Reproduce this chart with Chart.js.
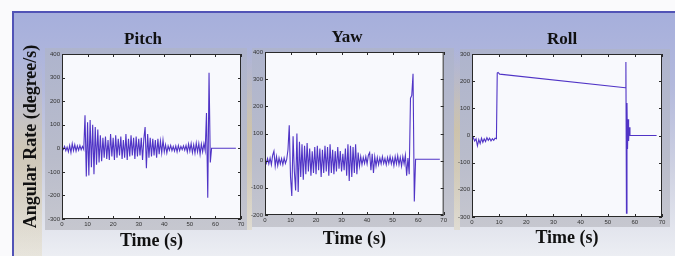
<!DOCTYPE html>
<html>
<head>
<meta charset="utf-8">
<script src="https://cdn.jsdelivr.net/npm/chart.js@4.4.1/dist/chart.umd.min.js"></script>
<style>
  html, body { margin: 0; padding: 0; }
  body { width: 675px; height: 256px; position: relative; overflow: hidden; background: #fafafc; }
  #frame {
    position: absolute; left: 12px; top: 11px; right: 0; bottom: 0;
    border-top: 2px solid #5153b6; border-left: 2px solid #5153b6;
    background: linear-gradient(to bottom, #a6afdc 0%, #b3b9dc 30%, #cfd2e2 65%, #eceef3 100%);
  }
  .tan { position: absolute; background: linear-gradient(to bottom, rgba(214,192,130,0) 0%, rgba(214,192,130,0.55) 45%, rgba(214,192,130,0.25) 100%); }
  .panel { position: absolute; background: linear-gradient(to bottom, #aeb4cd 0%, #b9bccb 60%, #c6c7cf 100%); }
  canvas { position: absolute; }
</style>
</head>
<body>
<div id="frame"></div>
<div class="tan" style="left:14px;top:60px;width:28px;height:196px;opacity:.8"></div>
<div class="tan" style="left:247px;top:48px;width:5px;height:182px"></div>
<div class="tan" style="left:454px;top:48px;width:6px;height:182px"></div>
<div class="panel" style="left:45px;top:48px;width:202px;height:182px"></div>
<div class="panel" style="left:252px;top:48px;width:202px;height:179px"></div>
<div class="panel" style="left:460px;top:49px;width:210px;height:178px"></div>
<canvas id="chartPitch" width="258" height="236" style="left:14px;top:20px"></canvas>
<canvas id="chartYaw" width="204" height="236" style="left:245px;top:20px"></canvas>
<canvas id="chartRoll" width="220" height="236" style="left:452px;top:20px"></canvas>
<script>
// Pitch rate (degree/s) vs time (s)
const pitchTime = [
  0, 0.5, 1, 1.5, 2, 2.5, 3, 3.5, 4, 4.5,
  5, 5.5, 6, 6.5, 7, 7.5, 8, 8.5, 9, 9.5,
  10, 10.5, 11, 11.5, 12, 12.5, 13, 13.5, 14, 14.5,
  15, 15.5, 16, 16.5, 17, 17.5, 18, 18.5, 19, 19.5,
  20, 20.5, 21, 21.5, 22, 22.5, 23, 23.5, 24, 24.5,
  25, 25.5, 26, 26.5, 27, 27.5, 28, 28.5, 29, 29.5,
  30, 30.5, 31, 31.5, 32, 32.5, 33, 33.5, 34, 34.5,
  35, 35.5, 36, 36.5, 37, 37.5, 38, 38.5, 39, 39.5,
  40, 40.5, 41, 41.5, 42, 42.5, 43, 43.5, 44, 44.5,
  45, 45.5, 46, 46.5, 47, 47.5, 48, 48.5, 49, 49.5,
  50, 50.5, 51, 51.5, 52, 52.5, 53, 53.5, 54, 54.5,
  55, 55.5, 56, 56.5, 57, 57.5, 58, 58.5, 68
];
const pitchRate = [
  0, -5, 8, -10, 5, -15, 12, -18, 20, -10,
  15, -12, 10, -8, 12, -6, 8, -5, 140, -120,
  110, -115, 120, -80, 100, -110, 90, -70, 80, -60,
  55, -55, 45, -40, 50, -45, 35, -50, 60, -35,
  45, -50, 55, -40, 40, -30, 50, -45, 35, -40,
  60, -50, 40, -35, 55, -30, 45, -45, 50, -35,
  40, -30, 45, -50, 40, 90, -85, 60, -40, 45,
  -35, 40, -30, 35, -40, 40, -25, 30, -20, 35,
  -15, 15, -20, 10, -8, 12, -10, 8, -12, 10,
  -15, 12, -10, 8, -6, 10, -8, 12, -15, 18,
  -12, 20, -18, 15, -20, 22, -15, 20, -25, 18,
  -15, 20, -10, 150, -210, 320, -60, 0, 0
];

// Yaw rate
const yawTime = [
  0, 0.5, 1, 1.5, 2, 2.5, 3, 3.5, 4, 4.5,
  5, 5.5, 6, 6.5, 7, 7.5, 8, 8.5, 9, 9.5,
  10, 10.5, 11, 11.5, 12, 12.5, 13, 13.5, 14, 14.5,
  15, 15.5, 16, 16.5, 17, 17.5, 18, 18.5, 19, 19.5,
  20, 20.5, 21, 21.5, 22, 22.5, 23, 23.5, 24, 24.5,
  25, 25.5, 26, 26.5, 27, 27.5, 28, 28.5, 29, 29.5,
  30, 30.5, 31, 31.5, 32, 32.5, 33, 33.5, 34, 34.5,
  35, 35.5, 36, 36.5, 37, 37.5, 38, 38.5, 39, 39.5,
  40, 40.5, 41, 41.5, 42, 42.5, 43, 43.5, 44, 44.5,
  45, 45.5, 46, 46.5, 47, 47.5, 48, 48.5, 49, 49.5,
  50, 50.5, 51, 51.5, 52, 52.5, 53, 53.5, 54, 54.5,
  55, 55.5, 56, 56.5, 57, 57.5, 58, 58.5, 59, 68.5
];
const yawRate = [
  0, -10, 8, -12, 10, -15, 20, 35, -20, 15,
  -18, 10, -12, 8, -15, 10, -10, 5, 40, 130,
  -60, -130, 90, -40, -110, 100, -115, 70, -60, 60,
  -70, 55, -50, 65, -40, 45, -55, 35, -45, 50,
  -50, 55, -35, 45, -60, 40, -45, 55, -40, 50,
  -55, 60, -45, 40, -50, 35, -40, 50, -30, 35,
  -40, 25, -35, 45, -55, 60, -75, 55, -60, 50,
  -45, 60, -50, 30, -20, 15, -15, 12, -10, 15,
  -12, 20, 30, -35, 25, -45, 15, -20, 12, -15,
  10, -12, 15, -10, 8, -15, 12, -10, 15, -12,
  10, -18, 15, -12, 18, -15, 12, -20, 15, -12,
  20, -55, 10, -50, 230, 240, 320, -150, 5, 5
];

// Roll rate
const rollTime = [
  0, 0.5, 1, 1.5, 2, 2.5, 3, 3.5, 4, 4.5,
  5, 5.5, 6, 6.5, 7, 7.5, 8, 8.5, 9, 9.3,
  9.6, 10.2, 11, 56.5, 56.7, 56.9, 57.1, 57.3, 57.5, 57.7,
  57.9, 58.2, 68
];
const rollRate = [
  0, -8, -20, -12, -38, -15, -30, -10, -25, -12,
  -22, -8, -18, -10, -20, -12, -18, -10, -12, 230,
  232, 226, 225, 176, 271, -286, 120, -50, 60, -20,
  30, 0, 0
];

const timeTicks = { min: 0, max: 70, step: 10 };
const lineColor = '#5034c6';
const serif = "'Liberation Serif', 'DejaVu Serif', serif";

// plot box: white fill, dark frame, inward ticks on all four sides
const matlabBox = {
  id: 'matlabBox',
  beforeDatasetsDraw(chart) {
    const { ctx, chartArea: a } = chart;
    ctx.save();
    ctx.fillStyle = '#f8f9fd';
    ctx.fillRect(a.left, a.top, a.width, a.height);
    ctx.restore();
  },
  afterDatasetsDraw(chart) {
    const { ctx, chartArea: a, scales } = chart;
    const x = scales.x, y = scales.y;
    ctx.save();
    ctx.strokeStyle = '#2a2a2a';
    ctx.lineWidth = 1;
    ctx.strokeRect(a.left + 0.5, a.top + 0.5, a.width - 1, a.height - 1);
    ctx.beginPath();
    x.ticks.forEach(t => {
      const px = Math.round(x.getPixelForValue(t.value)) + 0.5;
      ctx.moveTo(px, a.bottom); ctx.lineTo(px, a.bottom - 3);
      ctx.moveTo(px, a.top); ctx.lineTo(px, a.top + 3);
    });
    y.ticks.forEach(t => {
      const py = Math.round(y.getPixelForValue(t.value)) + 0.5;
      ctx.moveTo(a.left, py); ctx.lineTo(a.left + 3, py);
      ctx.moveTo(a.right, py); ctx.lineTo(a.right - 3, py);
    });
    ctx.stroke();
    ctx.restore();
  }
};

function makePanel(id, title, time, rate, yMin, yMax, g) {
  const scales = {
    x: {
      type: 'linear',
      min: timeTicks.min, max: timeTicks.max,
      grid: { display: false, drawTicks: false }, border: { display: false },
      ticks: { stepSize: timeTicks.step, padding: 2, color: '#333', font: { size: 6, family: 'Liberation Sans' }, maxRotation: 0 },
      title: { display: true, text: 'Time (s)', color: '#111', font: { size: 18, weight: 'bold', family: serif }, padding: { top: 0, bottom: g.xTitlePad } },
      afterFit: s => { s.height = g.xH; }
    },
    y: {
      min: yMin, max: yMax,
      grid: { display: false, drawTicks: false }, border: { display: false },
      ticks: { stepSize: 100, padding: 2, color: '#333', font: { size: 6, family: 'Liberation Sans' } },
      title: { display: !!g.yTitle, text: g.yTitle || '', color: '#111', font: { size: 18, weight: 'bold', family: serif }, padding: { top: 7, bottom: 0 } },
      afterFit: s => { s.width = g.yW; }
    }
  };
  if (g.rW) {
    scales.r = {
      position: 'right', axis: 'y', min: yMin, max: yMax,
      grid: { display: false, drawTicks: false }, border: { display: false },
      ticks: { display: false },
      afterFit: s => { s.width = g.rW; }
    };
  }
  return new Chart(document.getElementById(id), {
    type: 'line',
    data: {
      datasets: [{
        label: title,
        data: time.map((t, i) => ({ x: t, y: rate[i] })),
        borderColor: lineColor,
        borderWidth: 1.1,
        pointRadius: 0,
        tension: 0
      }]
    },
    options: {
      responsive: false,
      animation: false,
      layout: { padding: 0 },
      plugins: {
        legend: { display: false },
        tooltip: { enabled: false },
        title: {
          display: true, text: title, color: '#111',
          font: { size: 17, weight: 'bold', family: serif },
          padding: { top: g.titleTop, bottom: 4.6 }
        }
      },
      scales
    },
    plugins: [matlabBox]
  });
}

makePanel('chartPitch', 'Pitch', pitchTime, pitchRate, -300, 400,
  { yW: 48, rW: 31, xH: 37, xTitlePad: 4, titleTop: 9, yTitle: 'Angular Rate (degree/s)' });
makePanel('chartYaw', 'Yaw', yawTime, yawRate, -200, 400,
  { yW: 20, rW: 0, xH: 41, xTitlePad: 6, titleTop: 7 });
makePanel('chartRoll', 'Roll', rollTime, rollRate, -300, 300,
  { yW: 20, rW: 10, xH: 39, xTitlePad: 7, titleTop: 9 });
</script>
</body>
</html>
